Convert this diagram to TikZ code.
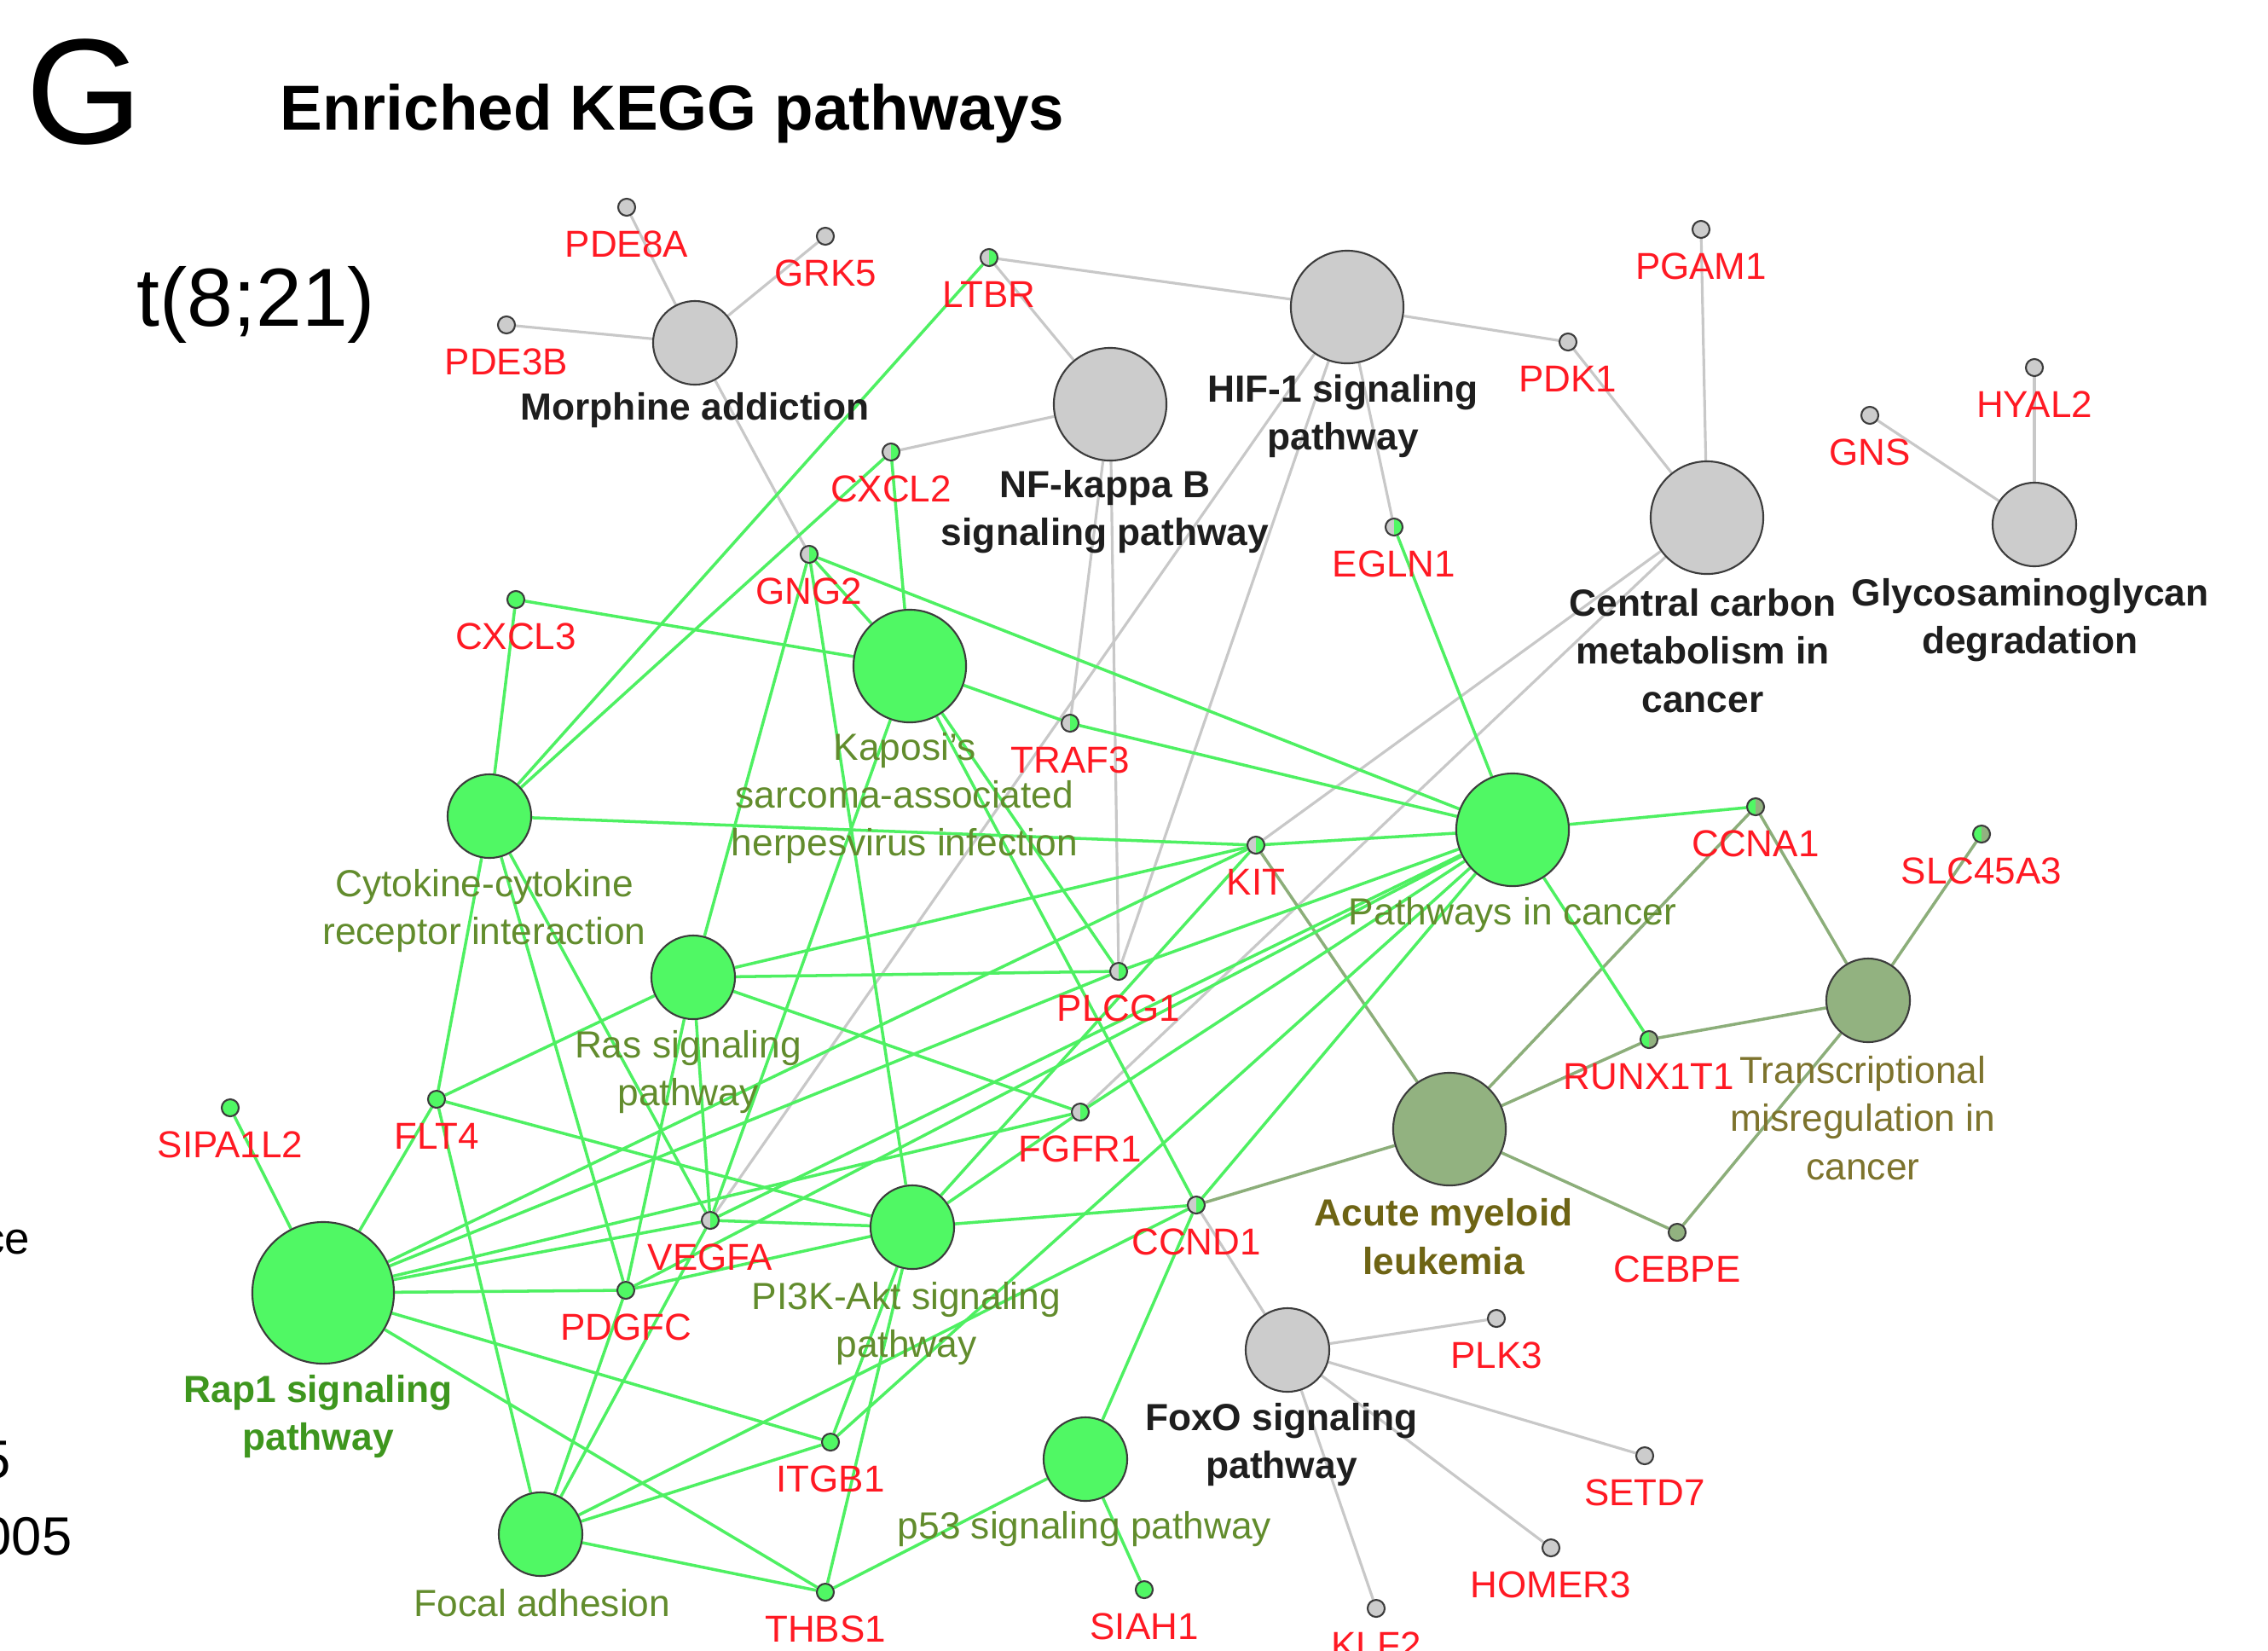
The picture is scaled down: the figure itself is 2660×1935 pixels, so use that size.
\documentclass[tikz,border=0pt]{standalone}
\usepackage{fontspec}
\setmainfont{Liberation Sans}
\usetikzlibrary{backgrounds,calc}

\definecolor{ngray}{RGB}{204,204,204}
\definecolor{ngreen}{RGB}{80,248,100}
\definecolor{nolive}{RGB}{146,178,128}
\definecolor{lgray}{RGB}{200,200,200}
\definecolor{lgreen}{RGB}{78,240,98}
\definecolor{lolive}{RGB}{140,174,122}
\definecolor{rim}{RGB}{60,60,60}
\definecolor{genered}{RGB}{255,25,35}
\definecolor{grtext}{RGB}{98,140,45}
\definecolor{rapt}{RGB}{62,150,30}
\definecolor{amlt}{RGB}{110,100,20}
\definecolor{tmt}{RGB}{125,115,45}
\definecolor{darkt}{RGB}{30,30,30}

\tikzset{
  gene/.style 2 args={circle, draw=rim, line width=0.6pt, minimum size=2mm, inner sep=0pt,
    path picture={
      \fill[#1] (path picture bounding box.south west) rectangle (path picture bounding box.north);
      \fill[#2] (path picture bounding box.south) rectangle (path picture bounding box.north east);}},
  pway/.style 2 args={circle, draw=rim, line width=0.6pt, fill=#1, minimum size=#2, inner sep=0pt},
  eg/.style={draw=lgray, line width=0.9pt},
  en/.style={draw=lgreen, line width=1.0pt},
  eo/.style={draw=lolive, line width=1.0pt},
  glab/.style={text=genered, font=\fontsize{12.5}{15}\selectfont, inner sep=0pt,
    text height=9pt, text depth=0pt, anchor=center},
  plab/.style={font=\bfseries\fontsize{12.6}{16}\selectfont, align=center, inner sep=0pt, text=darkt},
  qlab/.style={font=\fontsize{12.6}{16}\selectfont, align=center, inner sep=0pt, text=grtext},
}

\begin{document}
\begin{tikzpicture}[x=0.01cm, y=-0.01cm]
\useasboundingbox (0,0) rectangle (2660,1935);

% headings
\node[anchor=base west, inner sep=0pt, font=\fontsize{50}{56}\selectfont] (panel) at (30,168) {G};
\node[anchor=base west, inner sep=0pt, font=\bfseries\fontsize{21.2}{24}\selectfont] (title) at (328,152) {Enriched KEGG pathways};
\node[anchor=base west, inner sep=0pt, font=\fontsize{27.5}{30}\selectfont] (case) at (160,382) {t(8;21)};

% remnants of a legend at the left edge
\node[anchor=base east, inner sep=0pt, font=\fontsize{15}{18}\selectfont] (lg1) at (36,1470) {ce};
\node[anchor=base east, inner sep=0pt, font=\fontsize{18}{20}\selectfont] (lg2) at (13,1733) {5};
\node[anchor=base east, inner sep=0pt, font=\fontsize{18}{20}\selectfont] (lg3) at (85,1823) {005};

% pathway nodes
\node[pway={ngray}{0.98cm}]  (Morph) at (815,402) {};
\node[pway={ngray}{1.32cm}]  (NFkB)  at (1302,474) {};
\node[pway={ngray}{1.32cm}]  (HIF)   at (1580,360) {};
\node[pway={ngray}{1.32cm}]  (CentC) at (2002,607) {};
\node[pway={ngray}{0.98cm}]  (Glyco) at (2386,615) {};
\node[pway={ngreen}{0.98cm}] (Cyto)  at (574,957) {};
\node[pway={ngreen}{1.32cm}] (Kap)   at (1067,781) {};
\node[pway={ngreen}{0.98cm}] (Ras)   at (813,1146) {};
\node[pway={ngreen}{1.32cm}] (PiC)   at (1774,973) {};
\node[pway={nolive}{1.32cm}] (AML)   at (1700,1324) {};
\node[pway={nolive}{0.98cm}] (TM)    at (2191,1173) {};
\node[pway={ngreen}{0.98cm}] (PIK)   at (1070,1439) {};
\node[pway={ngreen}{1.66cm}] (Rap)   at (379,1516) {};
\node[pway={ngreen}{0.98cm}] (Focal) at (634,1799) {};
\node[pway={ngreen}{0.98cm}] (Pfs)   at (1273,1711) {};
\node[pway={ngray}{0.98cm}]  (FoxO)  at (1510,1583) {};

% gene nodes
\node[gene={ngray}{ngray}]   (PDE8A)   at (735,243) {};
\node[gene={ngray}{ngray}]   (GRK5)    at (968,277) {};
\node[gene={ngray}{ngray}]   (PDE3B)   at (594,381) {};
\node[gene={ngray}{ngreen}]  (LTBR)    at (1160,302) {};
\node[gene={ngray}{ngreen}]  (CXCL2)   at (1045,530) {};
\node[gene={ngray}{ngreen}]  (GNG2)    at (949,650) {};
\node[gene={ngreen}{ngreen}] (CXCL3)   at (605,703) {};
\node[gene={ngray}{ngreen}]  (TRAF3)   at (1255,848) {};
\node[gene={ngray}{ngreen}]  (EGLN1)   at (1635,618) {};
\node[gene={ngray}{ngray}]   (PDK1)    at (1839,401) {};
\node[gene={ngray}{ngray}]   (PGAM1)   at (1995,269) {};
\node[gene={ngray}{ngray}]   (GNS)     at (2193,487) {};
\node[gene={ngray}{ngray}]   (HYAL2)   at (2386,431) {};
\node[gene={ngray}{ngreen}]  (KIT)     at (1473,991) {};
\node[gene={ngray}{ngreen}]  (PLCG1)   at (1312,1139) {};
\node[gene={ngray}{ngreen}]  (FGFR1)   at (1267,1304) {};
\node[gene={ngray}{ngreen}]  (VEGFA)   at (833,1431) {};
\node[gene={ngray}{ngreen}]  (CCND1)   at (1403,1413) {};
\node[gene={ngreen}{nolive}] (CCNA1)   at (2059,946) {};
\node[gene={ngreen}{nolive}] (RUNX1T1) at (1934,1219) {};
\node[gene={ngreen}{nolive}] (SLC45A3) at (2324,978) {};
\node[gene={nolive}{nolive}] (CEBPE)   at (1967,1445) {};
\node[gene={ngreen}{ngreen}] (PDGFC)   at (734,1513) {};
\node[gene={ngreen}{ngreen}] (ITGB1)   at (974,1691) {};
\node[gene={ngreen}{ngreen}] (THBS1)   at (968,1867) {};
\node[gene={ngreen}{ngreen}] (SIAH1)   at (1342,1864) {};
\node[gene={ngreen}{ngreen}] (FLT4)    at (512,1289) {};
\node[gene={ngreen}{ngreen}] (SIPA1L2) at (270,1299) {};
\node[gene={ngray}{ngray}]   (PLK3)    at (1755,1546) {};
\node[gene={ngray}{ngray}]   (SETD7)   at (1929,1707) {};
\node[gene={ngray}{ngray}]   (HOMER3)  at (1819,1815) {};
\node[gene={ngray}{ngray}]   (KLF2)    at (1614,1886) {};

% connectors, kept behind the nodes
\begin{pgfonlayer}{background}
\foreach \g in {PDE8A,GRK5,PDE3B,GNG2} \draw[eg] (Morph) -- (\g);
\foreach \g in {LTBR,CXCL2,TRAF3,PLCG1} \draw[eg] (NFkB) -- (\g);
\foreach \g in {LTBR,PDK1,EGLN1,VEGFA,PLCG1} \draw[eg] (HIF) -- (\g);
\foreach \g in {PDK1,PGAM1,KIT,FGFR1} \draw[eg] (CentC) -- (\g);
\foreach \g in {GNS,HYAL2} \draw[eg] (Glyco) -- (\g);
\foreach \g in {CCND1,PLK3,SETD7,HOMER3,KLF2} \draw[eg] (FoxO) -- (\g);

\foreach \g in {KIT,CCNA1,RUNX1T1,CEBPE,CCND1} \draw[eo] (AML) -- (\g);
\foreach \g in {CCNA1,SLC45A3,RUNX1T1,CEBPE} \draw[eo] (TM) -- (\g);

\foreach \g in {CXCL3,LTBR,CXCL2,KIT,FLT4,PDGFC,VEGFA} \draw[en] (Cyto) -- (\g);
\foreach \g in {CXCL2,CXCL3,GNG2,TRAF3,PLCG1,CCND1,VEGFA} \draw[en] (Kap) -- (\g);
\foreach \g in {GNG2,KIT,PLCG1,FGFR1,FLT4,PDGFC,VEGFA} \draw[en] (Ras) -- (\g);
\foreach \g in {EGLN1,GNG2,TRAF3,KIT,CCNA1,RUNX1T1,PLCG1,FGFR1,VEGFA,CCND1,ITGB1,PDGFC} \draw[en] (PiC) -- (\g);
\foreach \g in {GNG2,KIT,FGFR1,VEGFA,CCND1,PDGFC,ITGB1,THBS1,FLT4} \draw[en] (PIK) -- (\g);
\foreach \g in {SIPA1L2,FLT4,KIT,PLCG1,FGFR1,VEGFA,PDGFC,ITGB1,THBS1} \draw[en] (Rap) -- (\g);
\foreach \g in {FLT4,PDGFC,VEGFA,ITGB1,THBS1,CCND1} \draw[en] (Focal) -- (\g);
\foreach \g in {CCND1,THBS1,SIAH1} \draw[en] (Pfs) -- (\g);
\end{pgfonlayer}

% gene labels
\foreach \g in {PDE8A,GRK5,PDE3B,LTBR,CXCL2,GNG2,CXCL3,TRAF3,EGLN1,PDK1,PGAM1,GNS,HYAL2,KIT,PLCG1,FGFR1,VEGFA,CCND1,CCNA1,RUNX1T1,SLC45A3,CEBPE,PDGFC,ITGB1,THBS1,SIAH1,FLT4,SIPA1L2,PLK3,SETD7,HOMER3,KLF2}
  \node[glab] (\g-t) at ($(\g)+(0,43)$) {\g};

% pathway labels
\node[plab] (Morph-t) at (815,481) {Morphine addiction};
\node[plab] (HIF-t)   at (1575,488) {HIF-1 signaling\\pathway};
\node[plab] (NFkB-t)  at (1296,600) {NF-kappa B\\signaling pathway};
\node[plab] (CentC-t) at (1997,763) {Central carbon\\metabolism in\\cancer};
\node[plab] (Glyco-t) at (2381,727) {Glycosaminoglycan\\degradation};
\node[plab] (FoxO-t)  at (1503,1694) {FoxO signaling\\pathway};
\node[plab, text=amlt] (AML-t) at (1693,1450) {Acute myeloid\\leukemia};
\node[plab, text=rapt] (Rap-t) at (373,1661) {Rap1 signaling\\pathway};
\node[qlab] (Cyto-t)  at (568,1068) {Cytokine-cytokine\\receptor interaction};
\node[qlab] (Kap-t)   at (1061,936) {Kaposi's\\sarcoma-associated\\herpesvirus infection};
\node[qlab] (Ras-t)   at (807,1257) {Ras signaling\\pathway};
\node[qlab] (PiC-t)   at (1774,1073) {Pathways in cancer};
\node[qlab] (PIK-t)   at (1063,1552) {PI3K-Akt signaling\\pathway};
\node[qlab] (Pfs-t)   at (1272,1793) {p53 signaling pathway};
\node[qlab] (Focal-t) at (636,1880) {Focal adhesion};
\node[qlab, text=tmt] (TM-t) at (2185,1311) {Transcriptional\\misregulation in\\cancer};
\end{tikzpicture}
\end{document}
